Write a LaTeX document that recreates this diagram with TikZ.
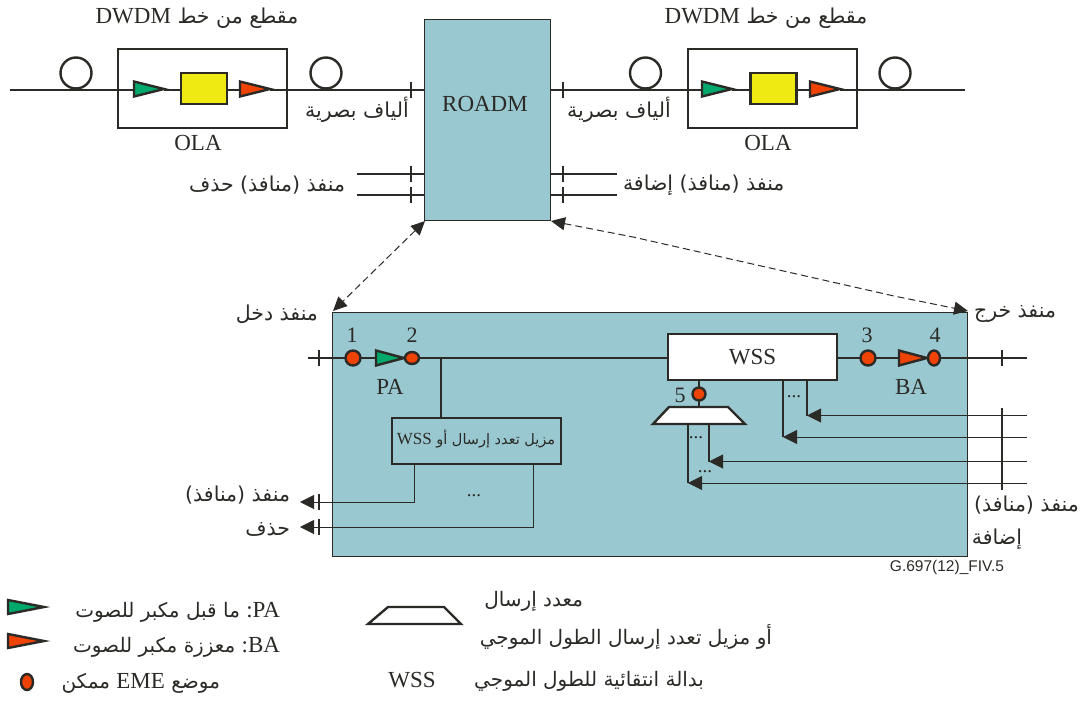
\documentclass[tikz,border=0pt]{standalone}
\usepackage{fontspec}
\setmainfont{Liberation Serif}
\newfontfamily\arabicfont[Script=Arabic]{DejaVu Sans}
\newfontfamily\labelsans{Liberation Sans}
\TeXXeTstate=1
\usetikzlibrary{shapes.geometric,arrows.meta}
\definecolor{panel}{HTML}{99C8D1}
\definecolor{ink}{HTML}{2B2A26}
\definecolor{ampgreen}{HTML}{00A86B}
\definecolor{ampred}{HTML}{EF4205}
\definecolor{ampyellow}{HTML}{EEEA12}
\newcommand{\ar}[1]{{\arabicfont\beginR #1\endR}}
\newcommand{\lat}[1]{\beginL{\rmfamily\fontsize{23}{24}\selectfont #1}\endL{}}
\tikzset{
  x=1pt,y=-1pt,
  every node/.style={inner sep=0pt,outer sep=0pt,text=ink},
  thick line/.style={draw=ink,line width=2.6pt},
  thin line/.style={draw=ink,line width=1pt},
  tick line/.style={draw=ink,line width=2.4pt},
  coil/.style={circle,draw=ink,line width=2.4pt,fill=none,minimum size=31pt},
  amp/.style={isosceles triangle,isosceles triangle apex angle=30,shape border rotate=0,draw=ink,line width=2.4pt,anchor=west,minimum height=30pt,minimum width=15pt,isosceles triangle stretches},
  green amp/.style={amp,fill=ampgreen},
  red amp/.style={amp,fill=ampred},
  olabox/.style={rectangle,draw=ink,line width=2.4pt,fill=white,minimum width=169pt,minimum height=79pt},
  gainbox/.style={rectangle,draw=ink,line width=2.4pt,fill=ampyellow,minimum width=46pt,minimum height=31pt},
  eme/.style={ellipse,draw=ink,line width=2.4pt,fill=ampred,minimum width=13pt,minimum height=13pt},
  latin/.style={font=\fontsize{23}{24}\selectfont},
  arabic/.style={font=\fontsize{20.5}{24}\selectfont},
  legendar/.style={font=\fontsize{20}{24}\selectfont},
  num/.style={font=\fontsize{22}{24}\selectfont},
  dots/.style={font=\fontsize{19}{19}\selectfont},
  headin/.style={-{Triangle[length=14pt,width=14pt]}},
  dashconn/.style={draw=ink,line width=1pt,dash pattern=on 7pt off 4pt,{Triangle[length=14pt,width=13pt]}-{Triangle[length=14pt,width=13pt]}},
  muxshape/.style={draw=ink,line width=2.4pt,line join=miter,fill=white}
}
\begin{document}
\begin{tikzpicture}
\useasboundingbox (0,0) rectangle (1082,702);
% panel and ROADM
\node[rectangle,draw=ink,line width=1pt,fill=panel,minimum width=126pt,minimum height=201pt] (roadm) at (487,119.5) {};
\node[rectangle,draw=ink,line width=1pt,fill=panel,minimum width=635pt,minimum height=244pt] (panelbox) at (649.5,434) {};
\node[latin] (roadmtext) at (485,104) {ROADM};
% top chain
\coordinate (la) at (10,90);
\coordinate (ra) at (965,90);
\node[olabox] (ola1) at (202.5,88.5) {};
\node[olabox] (ola2) at (772.5,88.5) {};
\coordinate (ola1in) at (118,90);
\coordinate (ola1out) at (287,90);
\coordinate (ola2in) at (688,90);
\coordinate (ola2out) at (857,90);
\coordinate (roadmL) at (424,90);
\coordinate (roadmR) at (550,90);
\draw[thick line] (la) -- (ola1in);
\node[green amp] (g1) at (134,89) {};
\node[gainbox] (y1) at (204,88.5) {};
\node[red amp] (r1) at (240,89) {};
\node[green amp] (g2) at (702,89) {};
\node[gainbox] (y2) at (773.5,88.5) {};
\node[red amp] (r2) at (810,89) {};
\draw[thick line] (ola1in) -- (g1.west |- ola1in);
\draw[thick line] (g1.east |- ola1in) -- (y1.west |- ola1in);
\draw[thick line] (y1.east |- ola1in) -- (r1.west |- ola1in);
\draw[thick line] (r1.east |- ola1in) -- (ola1out);
\draw[thick line] (ola1out) -- (roadmL);
\draw[thick line] (roadmR) -- (ola2in);
\draw[thick line] (ola2in) -- (g2.west |- ola2in);
\draw[thick line] (g2.east |- ola2in) -- (y2.west |- ola2in);
\draw[thick line] (y2.east |- ola2in) -- (r2.west |- ola2in);
\draw[thick line] (r2.east |- ola2in) -- (ola2out);
\draw[thick line] (ola2out) -- (ra);
\node[coil] (c1) at (76,73) {};
\node[coil] (c2) at (326,73) {};
\node[coil] (c3) at (645.5,73) {};
\node[coil] (c4) at (895,73) {};
\foreach \tx/\ty in {411/90,411/174,411/195,563/90,563/174,563/195}
  \draw[tick line] (\tx,\ty-8) -- (\tx,\ty+8);
\coordinate (dl1) at (357,174);
\coordinate (dl2) at (357,195);
\coordinate (ar1) at (617,174);
\coordinate (ar2) at (617,195);
\draw[thick line] (dl1) -- (dl1 -| roadm.west);
\draw[thick line] (dl2) -- (dl2 -| roadm.west);
\draw[thick line] (ar1) -- (ar1 -| roadm.east);
\draw[thick line] (ar2) -- (ar2 -| roadm.east);
\node[latin] (olat1) at (198,143) {OLA};
\node[latin] (olat2) at (768,143) {OLA};
\node[arabic] (title1) at (197,18) {\ar{مقطع من خط \lat{DWDM}}};
\node[arabic] (title2) at (766,18) {\ar{مقطع من خط \lat{DWDM}}};
\node[arabic] (fib1) at (357,110) {\ar{ألياف بصرية}};
\node[arabic] (fib2) at (619,110) {\ar{ألياف بصرية}};
\node[arabic,anchor=east] (droptop) at (345,185) {\ar{منفذ (منافذ) حذف}};
\node[arabic,anchor=west] (addtop) at (623,185) {\ar{منفذ (منافذ) إضافة}};
% dashed
\coordinate (panelL) at (333,311);
\coordinate (panelR) at (968,311);
\coordinate (roadmBL) at (425,221);
\coordinate (roadmBR) at (551,221);
\coordinate (bendA) at (633,237);
\coordinate (bendB) at (894,296);
\draw[dashconn] (roadmBL) -- (panelL);
\draw[dashconn] (roadmBR) -- (bendA) -- (bendB) -- (panelR);
% main line
\coordinate (in) at (308,358);
\coordinate (out) at (1027,358);
\node[rectangle,draw=ink,line width=2.6pt,fill=white,minimum width=169pt,minimum height=46pt,latin] (wss) at (752.5,357) {WSS};
\node[rectangle,draw=ink,line width=2.6pt,minimum width=169pt,minimum height=46pt] (demux) at (476.5,441) {};
\node[font=\fontsize{14.5}{16}\selectfont] (demuxt) at (476,439) {\ar{مزيل تعدد إرسال أو \beginL{\rmfamily\fontsize{17}{18}\selectfont WSS}\endL{}}};
\node[green amp,minimum height=28pt] (pa) at (376,358) {};
\node[red amp,minimum height=28pt] (ba) at (899,358) {};
\node[eme,minimum width=15pt,minimum height=15pt] (p1) at (353,358) {};
\node[eme,minimum width=14pt,minimum height=12pt] (p2) at (412,358) {};
\node[eme,minimum width=15pt,minimum height=15pt] (p3) at (868,358) {};
\node[eme,minimum width=12pt,minimum height=15pt] (p4) at (934,358) {};
\node[eme] (p5) at (699,394) {};
\draw[thick line] (in) -- (p1);
\draw[thick line] (p1) -- (pa.west |- p1);
\draw[thick line] (p2) -- (wss.west |- p2);
\draw[thick line] (wss.east |- p3) -- (p3);
\draw[thick line] (p3) -- (ba.west |- p3);
\draw[thick line] (p4) -- (out);
\coordinate (tap) at (441,358);
\draw[thick line] (tap) -- (tap |- demux.north);
\draw[tick line] (319,350) -- (319,366);
\draw[tick line] (1002,350) -- (1002,366);
\node[num] (n1) at (352,335) {1};
\node[num] (n2) at (412,335) {2};
\node[num] (n3) at (867,335) {3};
\node[num] (n4) at (935,335) {4};
\node[num] (n5) at (680,395) {5};
\node[latin] (patext) at (390,387) {PA};
\node[latin] (batext) at (911,387) {BA};
% drop side
\coordinate (dropa) at (414,464);
\coordinate (dropb) at (533,464);
\coordinate (tipa) at (300,502);
\coordinate (tipb) at (300,527);
\draw[thin line,headin] (dropa) |- (tipa);
\draw[thin line,headin] (dropb) |- (tipb);
\draw[tick line] (319,494) -- (319,510);
\draw[tick line] (319,519) -- (319,535);
\node[dots] (d0) at (474,496) {...};
\node[arabic,anchor=east] (inport) at (318,314) {\ar{منفذ دخل}};
\node[arabic,anchor=east] (outdrop1) at (290,495) {\ar{منفذ (منافذ)}};
\node[arabic,anchor=east] (outdrop2) at (290,529) {\ar{حذف}};
\node[arabic,anchor=west] (outport) at (974,314) {\ar{منفذ خرج}};
\node[arabic,anchor=west] (addp1) at (974,505) {\ar{منفذ (منافذ)}};
\node[arabic] (addp2) at (997,539) {\ar{إضافة}};
% mux
\coordinate (muxtop) at (699,407);
\coordinate (muxbot) at (699,424);
\draw[muxshape] (669,407) -- (728,407) -- (745,424) -- (653,424) -- cycle;
\draw[thick line] (p5 |- wss.south) -- (p5);
\draw[thick line] (p5) -- (muxtop);
\coordinate (i1) at (1027,415.5);
\coordinate (i2) at (1027,437);
\coordinate (i3) at (1027,461.5);
\coordinate (i4) at (1027,483);
\coordinate (e1) at (807,415.5);
\coordinate (e2) at (783,437);
\coordinate (e3) at (709,461.5);
\coordinate (e4) at (688,483);
\draw[thin line,headin] (i1) -- (e1);
\draw[thin line,headin] (i2) -- (e2);
\draw[thin line,headin] (i3) -- (e3);
\draw[thin line,headin] (i4) -- (e4);
\draw[thick line] (e1 |- wss.south) -- (e1);
\draw[thick line] (e2 |- wss.south) -- (e2);
\draw[thick line] (e3 |- muxbot) -- (e3);
\draw[thick line] (e4 |- muxbot) -- (e4);
\draw[tick line] (1002,408) -- (1002,490);
\node[dots] (d1) at (794,397) {...};
\node[dots] (d2) at (696,438) {...};
\node[dots] (d3) at (705,472) {...};
\node[font=\fontsize{15.5}{17}\selectfont\labelsans] (ref) at (947,567) {G.697(12)\_FIV.5};
% legend
\node[green amp,minimum height=36pt,minimum width=14pt] (lg) at (8,607) {};
\node[red amp,minimum height=36pt,minimum width=14pt] (lr) at (8,641) {};
\node[eme,minimum width=12pt,minimum height=16pt] (le) at (27,682) {};
\node[legendar,anchor=east] (lgt) at (280,612) {\ar{\lat{\hbox{:}\hbox{PA}} ما قبل مكبر للصوت}};
\node[legendar,anchor=east] (lrt) at (280,647) {\ar{\lat{\hbox{:}\hbox{BA}} معززة مكبر للصوت}};
\node[legendar,anchor=east] (let) at (220,683) {\ar{موضع \lat{EME} ممكن}};
\draw[muxshape,fill=none] (388,607) -- (444,607) -- (461,624) -- (368,624) -- cycle;
\node[latin] (lw) at (412,680) {WSS};
\node[legendar,anchor=east] (lm1) at (583,601) {\ar{معدد إرسال}};
\node[legendar,anchor=east] (lm2) at (772,637) {\ar{أو مزيل تعدد إرسال الطول الموجي}};
\node[legendar,anchor=east] (lw1) at (704,681) {\ar{بدالة انتقائية للطول الموجي}};
\end{tikzpicture}
\end{document}
